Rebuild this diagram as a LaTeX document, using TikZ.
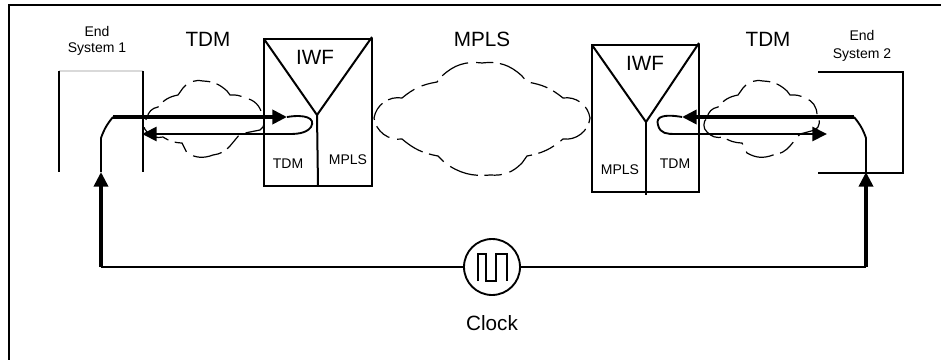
\documentclass[tikz,border=0pt]{standalone}
\usepackage{fontspec}
\setmainfont{Liberation Sans}
\usetikzlibrary{arrows.meta}
\tikzset{
  thinline/.style={black,line width=1.5pt},
  cloudline/.style={black,line width=0.9pt,dash pattern=on 13pt off 5pt on 22pt off 6pt},
  heavyline/.style={black,line width=2.8pt},
  loopline/.style={black,line width=2pt},
  feedline/.style={black,line width=1.4pt},
  bigtip/.style={-{Triangle[length=11pt,width=10.5pt]}},
  biglabel/.style={inner sep=0pt,font=\fontsize{15.5}{18}\selectfont},
  smalllabel/.style={inner sep=0pt,align=center,font=\fontsize{10.5}{12}\selectfont}
}
\begin{document}
\begin{tikzpicture}[x=0.75pt,y=-0.75pt]
\useasboundingbox (0,0) rectangle (941,360);
\draw[black,line width=1.5pt] (9,360) -- (9,5.5) -- (941,5.5);
% labels
\node[biglabel] (tdmleft) at (208,39) {TDM};
\node[biglabel] (mplsmid) at (482,39) {MPLS};
\node[biglabel] (tdmright) at (768,39) {TDM};
\node[smalllabel] (endone) at (97,41) {End\\[-0.5pt]System 1};
\node[smalllabel] (endtwo) at (862,46) {End\\[1.5pt]System 2};
\node[biglabel] (iwfone) at (315,57) {IWF};
\node[biglabel] (iwftwo) at (645,63) {IWF};
\node[smalllabel] (tdmone) at (288,164) {TDM};
\node[smalllabel] (mplsone) at (348,160) {MPLS};
\node[smalllabel] (mplstwo) at (620,170) {MPLS};
\node[smalllabel] (tdmtwo) at (675,164) {TDM};
\node[biglabel] (clocklabel) at (492,323) {Clock};
% end systems
\draw[black!15,line width=1pt] (59,71) -- (143,71);
\draw[thinline] (59,71) -- (59,172);
\draw[thinline] (143,71) -- (143,172);
\draw[thinline] (818,72) -- (903,72) -- (903,173) -- (818,173);
% interworking boxes
\draw[thinline] (264,39) rectangle (372,186);
\draw[thinline] (264,39) -- (317,115) -- (372,37);
\draw[thinline] (317,115) -- (318,186);
\draw[thinline] (592,45) rectangle (699,192);
\draw[thinline] (592,45) -- (646,122) -- (699,43);
\draw[thinline] (646,122) -- (646,195);
% clouds
\draw[cloudline] (147,118) to[bend left=35] (158,107) to[bend left=20] (178,95) -- (183,88)
  to[bend left=30] (203,81) to[bend left=20] (227,91) -- (230,95) to[bend left=15] (245,98)
  to[bend left=35] (262,115) to[bend left=50] (260,130) -- (240,134) -- (230,146)
  to[bend left=20] (213,155) to[bend left=25] (187,153) -- (182,143) to[bend left=15] (163,137)
  to[bend left=30] (147,132) to[bend left=50] cycle;
\draw[cloudline] (374,118) to[bend left=45] (402,98) to[bend left=15] (437,82) -- (442,76)
  to[bend left=25] (482,63) to[bend left=25] (522,76) -- (527,82) to[bend left=15] (563,98)
  to[bend left=45] (590,118) to[bend left=45] (563,139) to[bend left=15] (527,156) -- (522,163)
  to[bend left=25] (490,175) to[bend left=20] (445,163) -- (438,156) to[bend left=15] (402,139)
  to[bend left=45] cycle;
\draw[cloudline] (707,118) to[bend left=35] (718,107) to[bend left=20] (738,95) -- (743,88)
  to[bend left=30] (763,81) to[bend left=20] (787,91) -- (790,95) to[bend left=15] (805,98)
  to[bend left=35] (817,115) to[bend left=50] (815,130) -- (800,134) -- (790,146)
  to[bend left=20] (773,155) to[bend left=25] (747,153) -- (742,143) to[bend left=15] (723,137)
  to[bend left=30] (707,132) to[bend left=50] cycle;
% clock
\node[draw=black,line width=1.4pt,circle,minimum size=42pt,inner sep=0pt] (clock) at (492,267) {};
\draw[black,line width=1.1pt] (478,281) -- (478,254) -- (486,254) -- (486,281) -- (496,281) -- (496,254) -- (507,254) -- (507,281);
% timing feeds
\coordinate (feedone) at (101,172);
\coordinate (feedtwo) at (866,172);
\coordinate (cornerone) at (101,267);
\coordinate (cornertwo) at (866,267);
\draw[thinline] (clock.west) -- (cornerone);
\draw[thinline] (clock.east) -- (cornertwo);
\draw[heavyline,bigtip] (cornerone) -- (feedone);
\draw[heavyline,bigtip] (cornertwo) -- (feedtwo);
% signal paths
\coordinate (bendone) at (101,138);
\coordinate (startone) at (113,117);
\coordinate (tipone) at (287,117);
\coordinate (backone) at (288,134);
\coordinate (endtipone) at (142,134);
\coordinate (bendtwo) at (866,138);
\coordinate (starttwo) at (854,117);
\coordinate (tiptwo) at (682,117);
\coordinate (backtwo) at (675,134);
\coordinate (endtiptwo) at (827,134);
\draw[feedline] (feedone) -- (bendone) to[bend left=10] (startone);
\draw[heavyline,bigtip] (startone) -- (tipone);
\draw[feedline] (tipone) .. controls (305,114) and (316,118) .. (311,127) .. controls (306,134) and (295,134) .. (backone);
\draw[loopline,bigtip] (backone) -- (endtipone);
\draw[feedline] (feedtwo) -- (bendtwo) to[bend right=10] (starttwo);
\draw[heavyline,bigtip] (starttwo) -- (tiptwo);
\draw[feedline] (tiptwo) .. controls (665,114) and (655,116) .. (658,125) .. controls (660,134) and (668,134) .. (backtwo);
\draw[loopline,bigtip] (backtwo) -- (endtiptwo);
\end{tikzpicture}
\end{document}
